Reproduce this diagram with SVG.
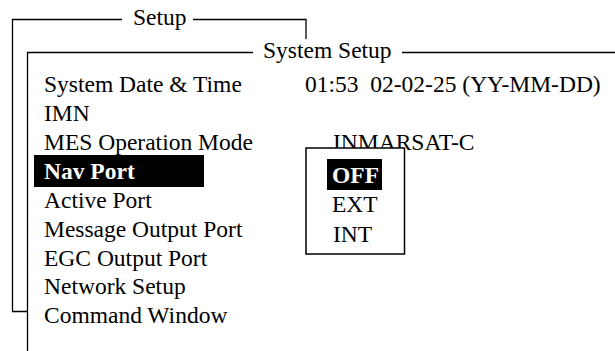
<svg xmlns="http://www.w3.org/2000/svg" width="615" height="351" viewBox="0 0 615 351">
<style>
.t{font-family:"Liberation Serif","Times New Roman",serif;font-size:23.5px;fill:#000;white-space:pre}
.b{font-weight:bold;fill:#fff}
.ln{stroke:#000;stroke-width:1.3;fill:none}
</style>
<rect width="615" height="351" fill="#fff"/>
<g id="setup-frame">
<path class="ln" d="M122,19.5 H12.5 V311.5 H27 M193,19.5 H306 V39"/>
<text class="t" x="133" y="25">Setup</text>
</g>
<g id="system-setup-frame">
<path class="ln" d="M253,52.5 H27.5 V351 M402,52.5 H615"/>
<text class="t" x="263" y="58">System Setup</text>
</g>
<g id="menu">
<text class="t" x="44" y="92">System Date &amp; Time</text>
<text class="t" x="44" y="121">IMN</text>
<text class="t" x="44" y="150">MES Operation Mode</text>
<rect x="34" y="155" width="170" height="32" fill="#000"/>
<text class="t b" x="44" y="179">Nav Port</text>
<text class="t" x="44" y="208">Active Port</text>
<text class="t" x="44" y="237">Message Output Port</text>
<text class="t" x="44" y="266">EGC Output Port</text>
<text class="t" x="44" y="294">Network Setup</text>
<text class="t" x="44" y="323">Command Window</text>
</g>
<g id="values">
<text class="t" x="305" y="92" xml:space="preserve">01:53  02-02-25 (YY-MM-DD)</text>
<text class="t" x="333" y="150">INMARSAT-C</text>
</g>
<g id="popup">
<rect x="306" y="148" width="98.5" height="106" fill="#fff" stroke="#000" stroke-width="1.5"/>
<rect x="327" y="159" width="55" height="31" fill="#000"/>
<text class="t b" x="332" y="183">OFF</text>
<text class="t" x="332" y="212">EXT</text>
<text class="t" x="333" y="242">INT</text>
</g>
<g id="connectors"/>
</svg>
